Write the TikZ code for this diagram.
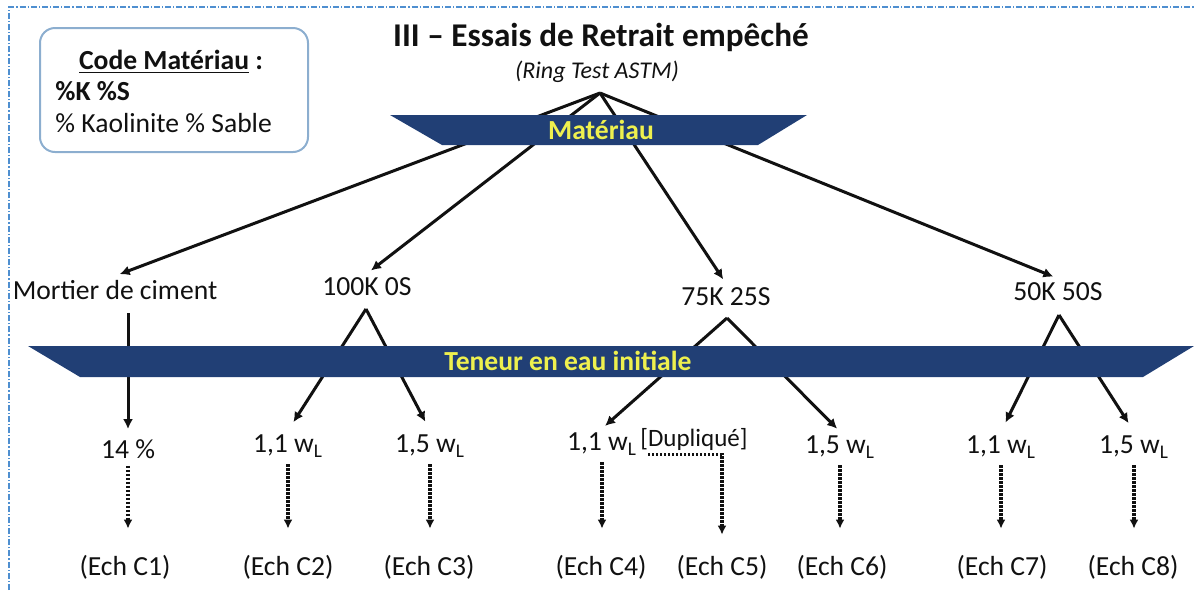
\documentclass[tikz,border=0pt]{standalone}
\usepackage{fontspec}
\setmainfont{Carlito}
\usetikzlibrary{arrows.meta,calc,positioning}
\definecolor{ink}{HTML}{111111}
\definecolor{navy}{HTML}{213F75}
\definecolor{banneryellow}{HTML}{EEF04E}
\definecolor{framegray}{HTML}{8CAECF}
\definecolor{pageblue}{HTML}{4F8FD0}
\newcommand{\bodyfont}{\fontsize{13.8}{16.5}\selectfont}
\newcommand{\titlefont}{\fontsize{16.6}{20}\selectfont\bfseries}
\newcommand{\notefont}{\fontsize{12}{14}\selectfont\itshape}
\newcommand{\dupfont}{\fontsize{12.5}{15}\selectfont}
\newcommand{\wL}{w\textsubscript{L}}
\tikzset{
  every node/.style={font=\bodyfont,text=ink,inner sep=2pt},
  arr/.style={-{Latex[length=5pt,width=5pt]},line width=1.5pt,draw=ink},
  dotarr/.style={-{Latex[length=4.5pt,width=4.5pt]},line width=1.9pt,draw=ink,
                 dash pattern=on 1.1pt off 0.9pt},
  banner/.style={fill=navy},
  bannertext/.style={font=\bodyfont\bfseries,text=banneryellow},
}

\begin{document}
\begin{tikzpicture}[x=0.5pt,y=-0.5pt]
  \useasboundingbox (0,0) rectangle (1194,590);
  \draw[pageblue,line width=0.6pt,dash pattern=on 3pt off 1pt on 0.6pt off 1pt]
       (9,590) -- (9,7) -- (1194,7);

  % ---------- legend ----------
  \node[draw=framegray,line width=1pt,rounded corners=7.5pt,
        minimum width=134pt,minimum height=62pt] (legend) at (174,90) {};
  \node[font=\bodyfont\bfseries] (code) at (171,62) {\underline{Code Matériau} :};
  \node[font=\bodyfont\bfseries,anchor=west] (ks) at (51,91) {\%K \%S};
  \node[anchor=west] (ksl) at (51,123) {\% Kaolinite \% Sable};

  % ---------- title ----------
  \node[font=\titlefont] (ttl) at (601,37) {III -- Essais de Retrait empêché};
  \node[font=\notefont] (ring) at (597,72) {(Ring Test ASTM)};
  \coordinate (top) at (600,93);

  % ---------- materials ----------
  \node (mort) at (115,290) {Mortier de ciment};
  \node (k100) at (367,287) {100K 0S};
  \node (k75)  at (726,297) {75K 25S};
  \node (k50)  at (1058,292) {50K 50S};
  \foreach \n in {mort,k100,k75,k50}
    \draw[arr,shorten >=2.5pt] (top) -- (\n.north);
  \fill[banner] (390,115) -- (807,115) -- (758,145) -- (442,145) -- cycle;
  \node[bannertext] (mat) at (601,130) {Matériau};

  % ---------- water content ----------
  \node (g1) at (128,449) {14 \%};
  \node (g2) at (288,446) {1,1 \wL};
  \node (g3) at (430,446) {1,5 \wL};
  \node (g4) at (602,444) {1,1 \wL};
  \node[font=\dupfont,anchor=west] (dup) at (636,439) {[Dupliqué]};
  \node (g6) at (840,447) {1,5 \wL};
  \node (g7) at (1001,447) {1,1 \wL};
  \node (g8) at (1134,447) {1,5 \wL};
  \coordinate (vm)   at (128,313);
  \coordinate (v100) at (366,309);
  \coordinate (v75)  at (727,318);
  \coordinate (v50)  at (1059,315);
  \draw[arr,shorten >=3pt] (vm) -- (g1.north);
  \draw[arr,shorten >=5pt] (v100) -- (g2.north);
  \draw[arr,shorten >=5pt] (v100) -- (g3.north);
  \draw[arr,shorten >=2pt] (v75) -- (g4.north);
  \draw[arr,shorten >=2pt] (v75) -- (g6.north);
  \draw[arr,shorten >=5pt] (v50) -- (g7.north);
  \draw[arr,shorten >=5pt] (v50) -- (g8.north);
  \fill[banner] (28,346) -- (1194,346) -- (1143,377) -- (80,377) -- cycle;
  \node[bannertext] (ten) at (568,361) {Teneur en eau initiale};

  % ---------- samples ----------
  \foreach \x/\i in {125/1,288/2,429/3,601/4,722/5,842/6,1002/7,1133/8}
    \node (e\i) at (\x,567) {(Ech C\i)};
  \foreach \i in {1,2,3,4,6,7,8}
    \draw[dotarr,shorten <=1.5pt,shorten >=11pt] (g\i.south) -- (g\i.south |- e\i.north);
  \coordinate (dupl) at ([xshift=6pt]dup.south west);
  \draw[dotarr,shorten >=8pt] (dupl) -| (e5.north);
\end{tikzpicture}
\end{document}
